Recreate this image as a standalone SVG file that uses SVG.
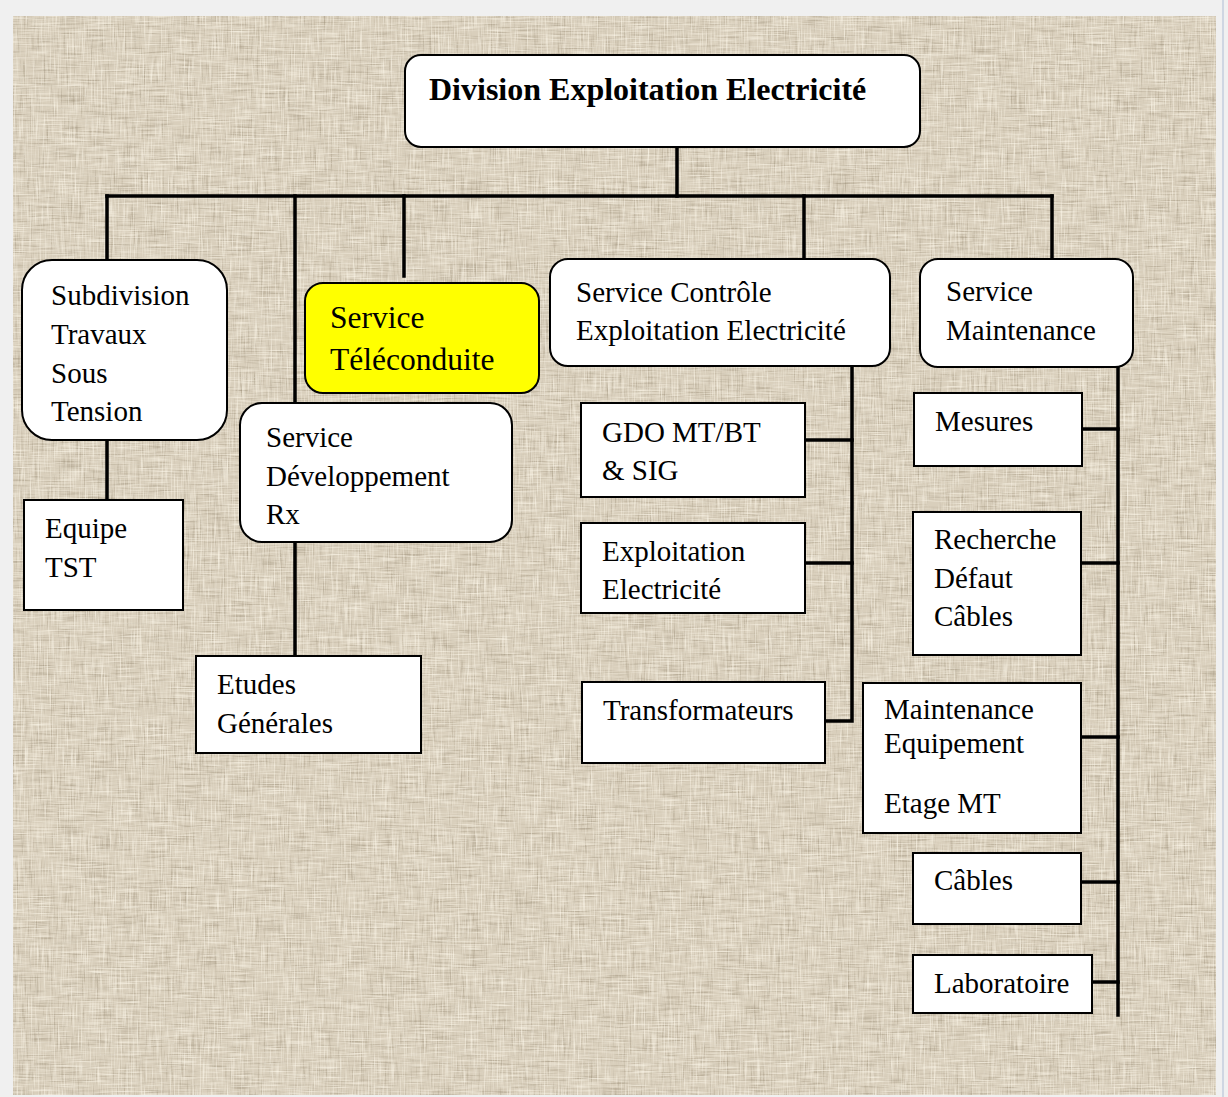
<svg xmlns="http://www.w3.org/2000/svg" width="1228" height="1097" viewBox="0 0 1228 1097">
  <defs>
    <!-- woven linen backdrop: base tone plus short warp/weft thread streaks -->
    <filter id="linen" x="0" y="0" width="100%" height="100%" color-interpolation-filters="sRGB">
      <feTurbulence type="fractalNoise" baseFrequency="0.7 0.035" numOctaves="2" seed="4" result="vn"/>
      <feTurbulence type="fractalNoise" baseFrequency="0.035 0.7" numOctaves="2" seed="9" result="hn"/>
      <feColorMatrix in="vn" type="matrix" values="0 0 0 0 1  0 0 0 0 0.98  0 0 0 0 0.93  1.6 0 0 0 -0.78" result="vl"/>
      <feColorMatrix in="vn" type="matrix" values="0 0 0 0 0.6  0 0 0 0 0.55  0 0 0 0 0.46  0 -1.4 0 0 0.62" result="vd"/>
      <feColorMatrix in="hn" type="matrix" values="0 0 0 0 0.6  0 0 0 0 0.55  0 0 0 0 0.46  0 0 1.4 0 -0.72" result="hd"/>
      <feColorMatrix in="hn" type="matrix" values="0 0 0 0 1  0 0 0 0 0.98  0 0 0 0 0.93  0 1.5 0 0 -0.72" result="hl"/>
      <feMerge>
        <feMergeNode in="SourceGraphic"/>
        <feMergeNode in="vd"/>
        <feMergeNode in="hd"/>
        <feMergeNode in="vl"/>
        <feMergeNode in="hl"/>
      </feMerge>
    </filter>
    <style>
      .box { fill: #ffffff; stroke: #000000; stroke-width: 2; }
      .hl { fill: #ffff00; stroke: #000000; stroke-width: 2; }
      .lbl { font-family: "Liberation Serif", "Times New Roman", serif; font-size: 29px; fill: #000000; }
      .big { font-size: 31.5px; }
      .title { font-family: "Liberation Serif", "Times New Roman", serif; font-size: 32px; font-weight: bold; fill: #000000; }
      .wire { fill: none; stroke: #000000; stroke-width: 3.5; stroke-linecap: square; }
    </style>
  </defs>

  <!-- page frame -->
  <rect x="0" y="0" width="1228" height="1097" fill="#f0f0f0"/>
  <rect x="1222" y="0" width="2" height="1097" fill="#cfd6e2"/>
  <rect x="13" y="16" width="1203" height="1079" fill="#d9cfbc" filter="url(#linen)"/>

  <!-- connectors -->
  <g id="connectors" class="wire">
    <line x1="677" y1="147" x2="677" y2="196"/>
    <line x1="107" y1="196" x2="1052" y2="196"/>
    <line x1="107" y1="196" x2="107" y2="260"/>
    <line x1="295" y1="196" x2="295" y2="656"/>
    <line x1="404" y1="196" x2="404" y2="276"/>
    <line x1="804" y1="196" x2="804" y2="259"/>
    <line x1="1052" y1="196" x2="1052" y2="259"/>
    <line x1="107" y1="440" x2="107" y2="500"/>
    <!-- Service Contrôle branch -->
    <polyline points="852,366 852,721 825,721"/>
    <line x1="805" y1="440" x2="852" y2="440"/>
    <line x1="805" y1="563" x2="852" y2="563"/>
    <!-- Service Maintenance branch -->
    <line x1="1118" y1="367" x2="1118" y2="1015"/>
    <line x1="1082" y1="429" x2="1118" y2="429"/>
    <line x1="1081" y1="563" x2="1118" y2="563"/>
    <line x1="1081" y1="737" x2="1118" y2="737"/>
    <line x1="1081" y1="882" x2="1118" y2="882"/>
    <line x1="1092" y1="982" x2="1118" y2="982"/>
  </g>

  <g id="division">
    <rect class="box" x="405" y="55" width="515" height="92" rx="16"/>
    <text class="title" x="429" y="100">Division Exploitation Electricité</text>
  </g>

  <g id="subdivision-tst">
    <rect class="box" x="22" y="260" width="205" height="180" rx="30"/>
    <text class="lbl" x="51" y="305">Subdivision</text>
    <text class="lbl" x="51" y="344">Travaux</text>
    <text class="lbl" x="51" y="383">Sous</text>
    <text class="lbl" x="51" y="421">Tension</text>
  </g>

  <g id="equipe-tst">
    <rect class="box" x="24" y="500" width="159" height="110"/>
    <text class="lbl" x="45" y="538">Equipe</text>
    <text class="lbl" x="45" y="577">TST</text>
  </g>

  <g id="service-teleconduite">
    <rect class="hl" x="305" y="283" width="234" height="110" rx="18"/>
    <text class="lbl big" x="330" y="328">Service</text>
    <text class="lbl big" x="330" y="370">Téléconduite</text>
  </g>

  <g id="service-developpement">
    <rect class="box" x="240" y="403" width="272" height="139" rx="22"/>
    <text class="lbl" x="266" y="447">Service</text>
    <text class="lbl" x="266" y="486">Développement</text>
    <text class="lbl" x="266" y="524">Rx</text>
  </g>

  <g id="etudes-generales">
    <rect class="box" x="196" y="656" width="225" height="97"/>
    <text class="lbl" x="217" y="694">Etudes</text>
    <text class="lbl" x="217" y="733">Générales</text>
  </g>

  <g id="service-controle">
    <rect class="box" x="550" y="259" width="340" height="107" rx="18"/>
    <text class="lbl" x="576" y="302">Service Contrôle</text>
    <text class="lbl" x="576" y="340">Exploitation Electricité</text>
  </g>

  <g id="gdo">
    <rect class="box" x="581" y="403" width="224" height="94"/>
    <text class="lbl" x="602" y="442">GDO MT/BT</text>
    <text class="lbl" x="602" y="480">&amp; SIG</text>
  </g>

  <g id="exploitation-electricite">
    <rect class="box" x="581" y="523" width="224" height="90"/>
    <text class="lbl" x="602" y="561">Exploitation</text>
    <text class="lbl" x="602" y="599">Electricité</text>
  </g>

  <g id="transformateurs">
    <rect class="box" x="582" y="682" width="243" height="81"/>
    <text class="lbl" x="603" y="720">Transformateurs</text>
  </g>

  <g id="service-maintenance">
    <rect class="box" x="920" y="259" width="213" height="108" rx="18"/>
    <text class="lbl" x="946" y="301">Service</text>
    <text class="lbl" x="946" y="340">Maintenance</text>
  </g>

  <g id="mesures">
    <rect class="box" x="914" y="393" width="168" height="73"/>
    <text class="lbl" x="935" y="431">Mesures</text>
  </g>

  <g id="recherche-defaut">
    <rect class="box" x="913" y="512" width="168" height="143"/>
    <text class="lbl" x="934" y="549">Recherche</text>
    <text class="lbl" x="934" y="588">Défaut</text>
    <text class="lbl" x="934" y="626">Câbles</text>
  </g>

  <g id="maintenance-equipement">
    <rect class="box" x="863" y="683" width="218" height="150"/>
    <text class="lbl" x="884" y="719">Maintenance</text>
    <text class="lbl" x="884" y="753">Equipement</text>
    <text class="lbl" x="884" y="813">Etage MT</text>
  </g>

  <g id="cables">
    <rect class="box" x="913" y="853" width="168" height="71"/>
    <text class="lbl" x="934" y="890">Câbles</text>
  </g>

  <g id="laboratoire">
    <rect class="box" x="913" y="955" width="179" height="58"/>
    <text class="lbl" x="934" y="993">Laboratoire</text>
  </g>
</svg>
